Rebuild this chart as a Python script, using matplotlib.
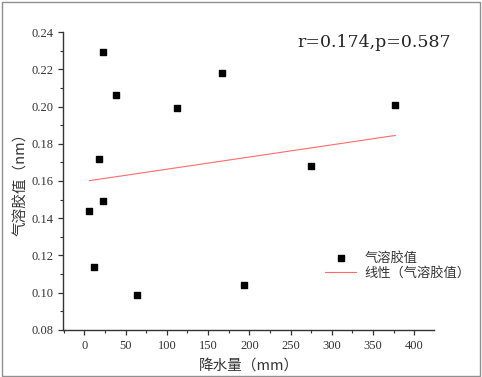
import numpy as np
import matplotlib
matplotlib.use('Agg')
import matplotlib.pyplot as plt
from matplotlib.patches import Rectangle
from matplotlib.ticker import MultipleLocator

# Data
precip = [22, 38, 112, 167, 377, 18, 275, 22, 6, 12, 64, 194]
aerosol = [0.229, 0.206, 0.199, 0.218, 0.201, 0.172, 0.168, 0.149, 0.144, 0.114, 0.099, 0.104]
x_ticks = [0, 50, 100, 150, 200, 250, 300, 350, 400]
y_ticks = [0.08, 0.10, 0.12, 0.14, 0.16, 0.18, 0.20, 0.22, 0.24]
stat_text = 'r=0.174,p=0.587'

cjk = ['Noto Sans CJK SC', 'DejaVu Sans']
serif = ['Liberation Serif', 'DejaVu Serif']

fig = plt.figure(figsize=(4.82, 3.77), dpi=100)
ax = fig.add_axes([0.1307, 0.1247, 0.7697, 0.7904])

ax.scatter(precip, aerosol, marker='s', s=22, color='black', zorder=3, label='气溶胶值')

# linear fit
slope, intercept = np.polyfit(precip, aerosol, 1)
xs = np.array([min(precip), max(precip)])
ax.plot(xs, slope * xs + intercept, color='#ff6a6a', lw=0.8, label='线性（气溶胶值）')

ax.set_xlim(-26, 424)
ax.set_ylim(0.08, 0.24)
ax.set_xticks(x_ticks)
ax.set_yticks(y_ticks)
ax.set_yticklabels([f'{v:.2f}' for v in y_ticks])
ax.xaxis.set_minor_locator(MultipleLocator(25))
ax.yaxis.set_minor_locator(MultipleLocator(0.01))

for side in ['top', 'right']:
    ax.spines[side].set_visible(False)
for side in ['left', 'bottom']:
    ax.spines[side].set_color('#333333')
    ax.spines[side].set_linewidth(1.0)

ax.tick_params(which='major', direction='out', length=3.5, width=0.9, color='#333333',
               labelsize=9, labelcolor='#333333')
ax.tick_params(which='minor', direction='out', length=2, width=0.8, color='#333333')
for lab in ax.get_xticklabels() + ax.get_yticklabels():
    lab.set_family(serif)

ax.set_xlabel('降水量（mm）', family=cjk, fontsize=10.5, color='#333333', labelpad=6)
ax.set_ylabel('气溶胶值（nm）', family=cjk, fontsize=10.5, color='#333333', labelpad=2)

ax.text(0.631, 0.966, stat_text, transform=ax.transAxes, ha='left', va='center',
        family=['DejaVu Serif'], fontsize=12.5, color='#222222')

leg = ax.legend(loc='lower right', bbox_to_anchor=(1.13, 0.13), frameon=False,
                prop={'family': cjk, 'size': 9.5}, handlelength=2.4, handletextpad=0.6,
                labelspacing=0.15, markerscale=0.9)
for t in leg.get_texts():
    t.set_color('#333333')

fig.patches.append(Rectangle((0.004, 0.003), 0.992, 0.993, transform=fig.transFigure,
                             fill=False, edgecolor='#909090', lw=1.0))

fig.savefig('out.png', dpi=100)
